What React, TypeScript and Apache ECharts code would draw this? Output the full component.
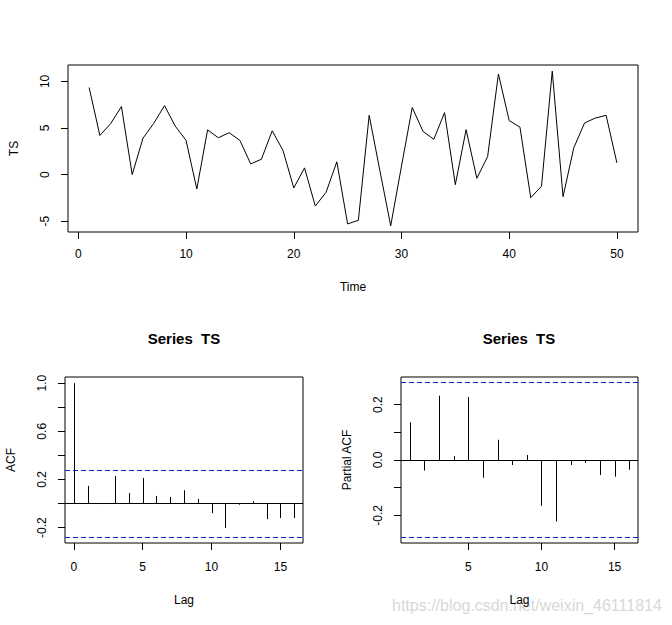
import React, { useEffect, useRef } from "react";
import * as echarts from "echarts";

const TS_VALUES = [
  9.35, 4.2, 5.47, 7.3, 0.0, 3.9, 5.5, 7.4, 5.2, 3.67,
  -1.55, 4.8, 3.95, 4.5, 3.67, 1.15, 1.65, 4.7, 2.6, -1.44,
  0.72, -3.38, -1.9, 1.37, -5.3, -4.9, 6.36, 0.4, -5.5, 0.9,
  7.2, 4.64, 3.78, 6.65, -1.08, 4.82, -0.4, 1.94, 10.8, 5.8,
  5.1, -2.48, -1.26, 11.1, -2.37, 2.88, 5.54, 6.07, 6.36, 1.26,
];
const ACF_VALUES = [
  1.0, 0.146, -0.005, 0.229, 0.086, 0.212, 0.063, 0.055, 0.11, 0.039,
  -0.08, -0.204, -0.01, 0.019, -0.13, -0.121, -0.121,
];
const PACF_VALUES = [
  0.136, -0.038, 0.232, 0.014, 0.227, -0.064, 0.073, -0.018, 0.018, -0.165,
  -0.222, -0.018, -0.01, -0.054, -0.06, -0.035,
];
const CI = 0.2772;

const TIME_TICKS = [0, 10, 20, 30, 40, 50];
const TS_TICKS = [-5, 0, 5, 10];
const LAG_TICKS_ACF = [0, 5, 10, 15];
const LAG_TICKS_PACF = [5, 10, 15];
const ACF_TICKS = [-0.2, 0, 0.2, 0.4, 0.6, 0.8, 1.0];
const ACF_LABELS = [-0.2, 0.2, 0.6, 1.0];
const PACF_TICKS = [-0.2, -0.1, 0, 0.1, 0.2];
const PACF_LABELS = [-0.2, 0.0, 0.2];

const FONT = "Liberation Sans, Arial, sans-serif";

function xAxisCfg(gridIndex: number, min: number, max: number, ticks: number[], name: string, margin: number, nameGap: number) {
  return {
    type: "value",
    gridIndex,
    min,
    max,
    name,
    nameLocation: "middle",
    nameGap,
    nameTextStyle: { color: "#000", fontSize: 12, fontFamily: FONT },
    axisLine: { show: false, onZero: false },
    axisTick: { show: true, length: 7, customValues: ticks, lineStyle: { color: "#000", width: 1 } },
    axisLabel: {
      show: true,
      customValues: ticks,
      margin,
      color: "#000",
      fontSize: 12,
      fontFamily: FONT,
      formatter: (v: number) => String(v),
    },
    splitLine: { show: false },
  };
}

function yAxisCfg(gridIndex: number, min: number, max: number, ticks: number[], labels: number[], name: string, digits: number) {
  return {
    type: "value",
    gridIndex,
    min,
    max,
    name,
    nameLocation: "middle",
    nameGap: 48,
    nameRotate: 90,
    nameTextStyle: { color: "#000", fontSize: 12, fontFamily: FONT },
    axisLine: { show: false, onZero: false },
    axisTick: { show: true, length: 7, customValues: ticks, lineStyle: { color: "#000", width: 1 } },
    axisLabel: {
      show: true,
      customValues: labels,
      rotate: 90,
      margin: 17,
      color: "#000",
      fontSize: 12,
      fontFamily: FONT,
      formatter: (v: number) => v.toFixed(digits),
    },
    splitLine: { show: false },
  };
}

function spikeRender(params: any, api: any) {
  const x = api.value(0);
  const y = api.value(1);
  const p0 = api.coord([x, 0]);
  const p1 = api.coord([x, y]);
  const px = Math.round(p0[0]) + 0.5;
  return {
    type: "line",
    shape: { x1: px, y1: p0[1], x2: px, y2: p1[1] },
    style: { stroke: "#000", lineWidth: 1 },
  };
}

function refLines(withZero: boolean) {
  const data: any[] = [
    { yAxis: CI, lineStyle: { color: "#1a1acc", type: [5, 3], width: 1 } },
    { yAxis: -CI, lineStyle: { color: "#1a1acc", type: [5, 3], width: 1 } },
  ];
  if (withZero) data.push({ yAxis: 0, lineStyle: { color: "#000", type: "solid", width: 1 } });
  return {
    silent: true,
    symbol: ["none", "none"],
    label: { show: false },
    animation: false,
    data,
  };
}

export default function App() {
  const ref = useRef<HTMLDivElement>(null);
  useEffect(() => {
    if (!ref.current) return;
    const chart = echarts.init(ref.current, undefined, { renderer: "svg" });
    const tsExt = (11.1 - -5.5) * 0.04;
    const acfMin = -CI - (1 + CI) * 0.04;
    const acfMax = 1 + (1 + CI) * 0.04;
    const pacfExt = CI * 2 * 0.04;
    chart.setOption({
      animation: false,
      backgroundColor: "#fff",
      textStyle: { fontFamily: FONT },
      title: [
        {
          text: "Series  TS",
          left: 184,
          top: 331,
          textAlign: "center",
          padding: 0,
          textStyle: { fontSize: 15, fontWeight: "bold", color: "#000", fontFamily: FONT },
        },
        {
          text: "Series  TS",
          left: 519,
          top: 331,
          textAlign: "center",
          padding: 0,
          textStyle: { fontSize: 15, fontWeight: "bold", color: "#000", fontFamily: FONT },
        },
      ],
      grid: [
        { left: 65, top: 65, width: 573, height: 167, show: true, borderColor: "#000", borderWidth: 1, backgroundColor: "transparent" },
        { left: 65, top: 377, width: 238, height: 166, show: true, borderColor: "#000", borderWidth: 1, backgroundColor: "transparent" },
        { left: 401, top: 377, width: 237, height: 166, show: true, borderColor: "#000", borderWidth: 1, backgroundColor: "transparent" },
      ],
      xAxis: [
        xAxisCfg(0, 1 - 49 * 0.04, 50 + 49 * 0.04, TIME_TICKS, "Time", 16, 49),
        xAxisCfg(1, -16 * 0.04, 16 + 16 * 0.04, LAG_TICKS_ACF, "Lag", 18, 51),
        xAxisCfg(2, 1 - 15 * 0.04, 16 + 15 * 0.04, LAG_TICKS_PACF, "Lag", 18, 51),
      ],
      yAxis: [
        yAxisCfg(0, -5.5 - tsExt, 11.1 + tsExt, TS_TICKS, TS_TICKS, "TS", 0),
        yAxisCfg(1, acfMin, acfMax, ACF_TICKS, ACF_LABELS, "ACF", 1),
        yAxisCfg(2, -CI - pacfExt, CI + pacfExt, PACF_TICKS, PACF_LABELS, "Partial ACF", 1),
      ],
      series: [
        {
          type: "line",
          xAxisIndex: 0,
          yAxisIndex: 0,
          data: TS_VALUES.map((v, i) => [i + 1, v]),
          symbol: "none",
          lineStyle: { color: "#000", width: 1 },
          silent: true,
        },
        {
          type: "custom",
          xAxisIndex: 1,
          yAxisIndex: 1,
          data: ACF_VALUES.map((v, i) => [i, v]),
          encode: { x: 0, y: 1 },
          renderItem: spikeRender,
          silent: true,
          markLine: refLines(true),
        },
        {
          type: "custom",
          xAxisIndex: 2,
          yAxisIndex: 2,
          data: PACF_VALUES.map((v, i) => [i + 1, v]),
          encode: { x: 0, y: 1 },
          renderItem: spikeRender,
          silent: true,
          markLine: refLines(true),
        },
      ],
      graphic: [
        {
          type: "text",
          left: 392,
          top: 597,
          silent: true,
          style: {
            text: "https://blog.csdn.net/weixin_46111814",
            fill: "#d8d8d8",
            font: "16px " + FONT,
          },
        },
      ],
    });
    return () => chart.dispose();
  }, []);
  return (
    <div
      ref={ref}
      style={{ position: "fixed", left: 0, top: 0, width: 672, height: 625, background: "#fff" }}
    />
  );
}
